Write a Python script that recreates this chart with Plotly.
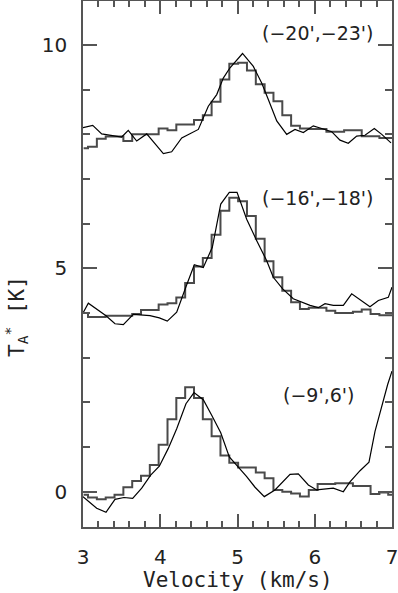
import plotly.graph_objects as go

# channel centres of the histogram spectra (km/s)
vel_chan = [3.008, 3.122, 3.237, 3.351, 3.465, 3.580, 3.694, 3.808, 3.922, 4.037,
            4.151, 4.265, 4.380, 4.494, 4.608, 4.722, 4.837, 4.951, 5.065, 5.180,
            5.294, 5.408, 5.523, 5.637, 5.751, 5.865, 5.980, 6.094, 6.208, 6.323,
            6.437, 6.551, 6.665, 6.780, 6.894, 7.008]

# (-20',-23') histogram
hist_top = [7.69, 7.72, 7.90, 7.95, 7.95, 7.85, 8.00, 8.00, 8.00, 8.13,
            8.09, 8.22, 8.22, 8.32, 8.43, 8.73, 9.23, 9.58, 9.60, 9.43,
            9.12, 8.93, 8.74, 8.43, 8.19, 8.13, 8.12, 8.12, 8.06, 8.06,
            8.09, 8.09, 7.96, 7.96, 7.92, 7.92]
# (-16',-18') histogram
hist_mid = [4.00, 3.91, 3.91, 3.94, 3.94, 3.94, 3.98, 4.07, 4.07, 4.19,
            4.22, 4.35, 4.67, 5.04, 5.23, 5.75, 6.29, 6.58, 6.50, 6.17,
            5.66, 5.16, 4.80, 4.50, 4.24, 4.09, 4.12, 4.12, 4.05, 4.00,
            4.00, 4.03, 4.08, 3.98, 3.95, 3.95]
# (-9',6') histogram
hist_bot = [-0.07, -0.13, -0.17, -0.13, -0.07, 0.10, 0.24, 0.36, 0.60, 1.05,
            1.62, 2.10, 2.34, 2.10, 1.62, 1.24, 0.81, 0.65, 0.54, 0.54,
            0.43, 0.30, 0.04, 0.00, -0.04, -0.11, 0.04, 0.17, 0.17, 0.19,
            0.19, 0.13, 0.13, -0.05, -0.02, -0.07]

# line spectra
vel_line_top = [3.000, 3.126, 3.242, 3.372, 3.501, 3.586, 3.695, 3.825, 4.040, 4.148,
                4.278, 4.493, 4.566, 4.622, 4.731, 4.816, 4.903, 5.032, 5.065, 5.205,
                5.313, 5.399, 5.508, 5.637, 5.744, 5.852, 5.981, 6.090, 6.219, 6.327,
                6.434, 6.543, 6.650, 6.771, 6.867, 6.987]
line_top = [8.15, 8.20, 8.01, 7.97, 7.94, 8.09, 7.85, 8.01, 7.57, 7.61,
            7.92, 8.11, 8.39, 8.63, 8.89, 9.26, 9.49, 9.75, 9.81, 9.52,
            9.15, 8.78, 8.30, 8.00, 8.11, 8.04, 8.19, 8.13, 8.06, 7.87,
            7.80, 7.96, 7.98, 8.13, 8.00, 7.81]

vel_line_mid = [3.000, 3.069, 3.298, 3.414, 3.522, 3.651, 3.867, 3.988, 4.091, 4.213,
                4.333, 4.441, 4.557, 4.674, 4.783, 4.894, 4.994, 5.119, 5.249, 5.378,
                5.463, 5.585, 5.722, 5.939, 6.046, 6.133, 6.240, 6.370, 6.478, 6.608,
                6.715, 6.823, 6.952, 7.000]
line_mid = [4.00, 4.22, 3.94, 3.76, 3.74, 3.97, 3.94, 3.89, 3.82, 4.02,
            4.59, 5.08, 5.02, 5.47, 6.44, 6.70, 6.70, 6.10, 5.62, 5.17,
            4.80, 4.54, 4.32, 4.17, 4.12, 4.21, 4.17, 4.17, 4.43, 4.28,
            4.14, 4.28, 4.35, 4.58]

vel_line_bot = [3.000, 3.177, 3.298, 3.414, 3.531, 3.643, 3.760, 3.876, 3.988, 4.104,
                4.213, 4.333, 4.437, 4.557, 4.666, 4.783, 4.894, 5.010, 5.119, 5.227,
                5.347, 5.485, 5.680, 5.787, 5.917, 6.025, 6.240, 6.370, 6.456, 6.586,
                6.702, 6.780, 6.867, 6.944, 7.000]
line_bot = [-0.11, -0.37, -0.46, -0.17, -0.13, -0.15, 0.08, 0.37, 0.57, 0.97,
            1.41, 1.97, 2.22, 2.06, 1.71, 1.32, 0.78, 0.55, 0.34, 0.10,
            -0.11, 0.04, 0.39, 0.40, 0.15, 0.04, 0.08, 0.00, 0.22, 0.47,
            0.66, 1.35, 1.94, 2.40, 2.70]

labels = ["(\u221220',\u221223')", "(\u221216',\u221218')", "(\u22129',6')"]
label_x = [6.04, 6.04, 6.05]
label_y = [10.27, 6.57, 2.16]

x_ticks = [3, 4, 5, 6, 7]
y_ticks = [0, 5, 10]

fig = go.Figure()
for h in (hist_top, hist_mid, hist_bot):
    fig.add_trace(go.Scatter(x=vel_chan, y=h, mode="lines", line_shape="hvh",
                             line=dict(color="#4a4a4a", width=2), showlegend=False,
                             hoverinfo="skip"))
for vx, ly in ((vel_line_top, line_top), (vel_line_mid, line_mid), (vel_line_bot, line_bot)):
    fig.add_trace(go.Scatter(x=vx, y=ly, mode="lines",
                             line=dict(color="#000000", width=1.2), showlegend=False,
                             hoverinfo="skip"))

for t, lx, lyv in zip(labels, label_x, label_y):
    fig.add_annotation(x=lx, y=lyv, xref="x", yref="y", text=t, showarrow=False,
                       font=dict(family="DejaVu Sans", size=19, color="#222"),
                       xanchor="center", yanchor="middle")

fig.add_annotation(xref="paper", yref="paper", x=0.5, y=-0.101, text="Velocity (km/s)",
                   showarrow=False, xanchor="center", yanchor="middle",
                   font=dict(family="DejaVu Sans Mono", size=21, color="#222"))
fig.add_annotation(xref="paper", yref="paper", x=-0.217, y=0.401,
                   text="T<sub>A</sub><sup>*</sup> [K]", textangle=-90,
                   showarrow=False, xanchor="center", yanchor="middle",
                   font=dict(family="DejaVu Sans Mono", size=21, color="#222"))

axis_common = dict(showgrid=False, zeroline=False, showline=True, linecolor="#555",
                   linewidth=1.5, mirror="ticks", ticks="inside", tickcolor="#555",
                   tickwidth=1.5, ticklabeloverflow="allow",
                   tickfont=dict(family="DejaVu Sans", size=20, color="#222"))

fig.update_xaxes(range=[3, 7], tickvals=x_ticks, ticklen=13, ticklabelstandoff=11,
                 minor=dict(dtick=0.2, ticks="inside", ticklen=6, tickcolor="#555",
                            tickwidth=1.5, showgrid=False),
                 **axis_common)
fig.update_yaxes(range=[-0.79, 10.985], tickvals=y_ticks, ticklen=14, ticklabelstandoff=10,
                 minor=dict(dtick=1, ticks="inside", ticklen=7, tickcolor="#555",
                            tickwidth=1.5, showgrid=False),
                 **axis_common)

fig.update_layout(width=398, height=593, margin=dict(l=83, r=6, t=1, b=66, autoexpand=False),
                  plot_bgcolor="white", paper_bgcolor="white")

fig.write_html("out.html", config={"displayModeBar": False},
               post_script="document.body.style.margin='0';")
